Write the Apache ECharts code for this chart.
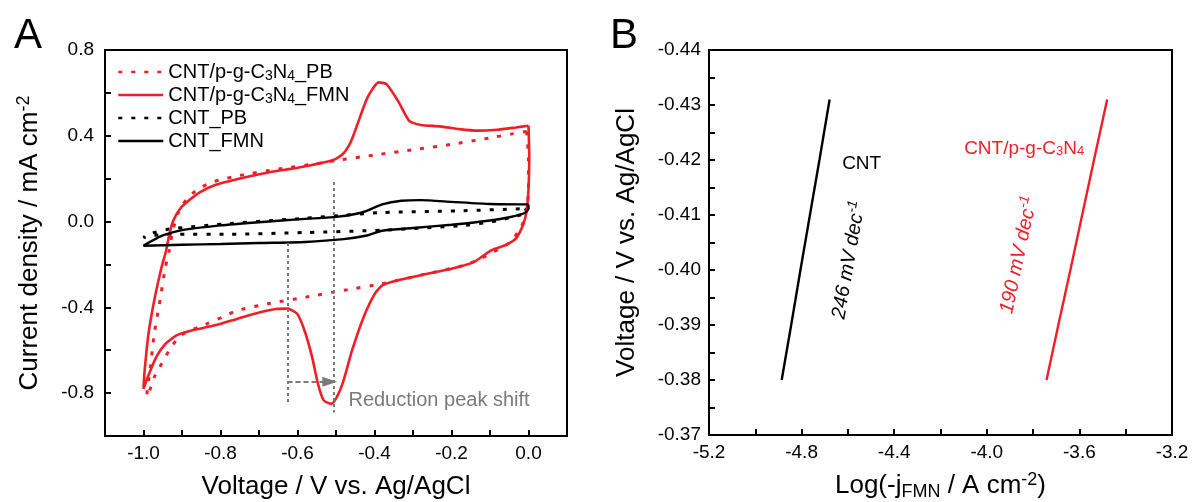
<!DOCTYPE html>
<html><head><meta charset="utf-8">
<script src="https://cdn.jsdelivr.net/npm/echarts@6/dist/echarts.min.js"></script>
<style>html,body{margin:0;padding:0;background:#fff}#c{width:1195px;height:502px}</style>
</head><body><div id="c"></div>
<script>
const FONT = "'Liberation Sans', Arial, sans-serif";
const RED = '#f01e28';
const GRAY = '#7a7a7a';

// ---------- Panel A: cyclic voltammograms ----------
const seriesNames = ['CNT/p-g-C3N4_PB', 'CNT/p-g-C3N4_FMN', 'CNT_PB', 'CNT_FMN'];
const legendRich = {
  'CNT/p-g-C3N4_PB': 'CNT/p-g-C{sub|3}N{sub|4}_PB',
  'CNT/p-g-C3N4_FMN': 'CNT/p-g-C{sub|3}N{sub|4}_FMN',
  'CNT_PB': 'CNT_PB',
  'CNT_FMN': 'CNT_FMN'
};

const cvHybridPB = [
  [-0.005,0.42],[0.0,0.30],[0.0,0.15],[-0.005,0.05],[-0.02,-0.03],[-0.05,-0.10],[-0.09,-0.14],
  [-0.132,-0.18],[-0.18,-0.21],[-0.28,-0.25],[-0.34,-0.274],[-0.38,-0.29],[-0.478,-0.32],
  [-0.577,-0.352],[-0.676,-0.383],[-0.755,-0.414],[-0.794,-0.445],[-0.834,-0.476],[-0.903,-0.53],
  [-0.933,-0.60],[-0.953,-0.663],[-0.972,-0.725],[-0.987,-0.803],[-0.992,-0.815],
  [-0.982,-0.678],[-0.972,-0.523],[-0.957,-0.367],[-0.943,-0.212],[-0.933,-0.134],[-0.925,-0.05],
  [-0.91,0.04],[-0.89,0.10],[-0.86,0.15],[-0.82,0.185],[-0.75,0.215],[-0.65,0.245],[-0.55,0.27],
  [-0.5,0.285],[-0.4,0.31],[-0.3,0.335],[-0.2,0.36],[-0.1,0.39],[-0.04,0.41],[-0.005,0.42]
];
const cvHybridFMN = [
  [0.0,0.447],[0.002,0.30],[0.0,0.15],[-0.005,0.05],[-0.013,-0.01],[-0.033,-0.08],[-0.06,-0.11],
  [-0.097,-0.134],[-0.141,-0.188],[-0.2,-0.22],[-0.28,-0.25],[-0.339,-0.274],[-0.379,-0.297],
  [-0.399,-0.336],[-0.428,-0.445],[-0.458,-0.60],[-0.483,-0.756],[-0.498,-0.819],[-0.512,-0.85],
  [-0.532,-0.834],[-0.547,-0.756],[-0.562,-0.632],[-0.582,-0.507],[-0.601,-0.43],[-0.626,-0.406],
  [-0.656,-0.408],[-0.695,-0.422],[-0.755,-0.453],[-0.814,-0.484],[-0.873,-0.507],[-0.913,-0.53],
  [-0.943,-0.57],[-0.967,-0.632],[-0.987,-0.717],[-1.0,-0.78],
  [-0.997,-0.694],[-0.987,-0.523],[-0.972,-0.367],[-0.953,-0.212],[-0.941,-0.134],[-0.933,-0.06],
  [-0.923,0.003],[-0.905,0.06],[-0.883,0.097],[-0.854,0.136],[-0.814,0.17],[-0.755,0.198],
  [-0.676,0.229],[-0.596,0.252],[-0.507,0.287],[-0.482,0.315],[-0.462,0.37],[-0.445,0.45],
  [-0.418,0.579],[-0.389,0.649],[-0.369,0.641],[-0.339,0.563],[-0.31,0.47],[-0.28,0.45],[-0.23,0.444],
  [-0.18,0.431],[-0.132,0.424],[-0.082,0.428],[-0.033,0.439],[0.0,0.447]
];
const cvCntPB = [
  [-0.01,0.06],[0.0,0.045],[-0.013,0.035],[-0.082,0.003],[-0.18,-0.02],[-0.379,-0.04],
  [-0.577,-0.051],[-0.774,-0.059],[-0.923,-0.059],[-0.987,-0.067],[-1.0,-0.075],
  [-0.99,-0.06],[-0.933,-0.035],[-0.774,-0.009],[-0.577,0.016],[-0.379,0.042],[-0.18,0.05],[-0.01,0.06]
];
const cvCntFMN = [
  [0.0,0.08],[0.0,0.06],[-0.01,0.04],[-0.05,0.02],[-0.1,0.005],[-0.2,-0.015],[-0.3,-0.03],
  [-0.38,-0.043],[-0.42,-0.065],[-0.48,-0.082],[-0.58,-0.095],[-0.7,-0.10],[-0.8,-0.105],
  [-0.9,-0.108],[-1.0,-0.113],
  [-0.98,-0.092],[-0.95,-0.065],[-0.9,-0.04],[-0.8,-0.018],[-0.7,-0.003],[-0.6,0.01],[-0.5,0.022],
  [-0.45,0.035],[-0.42,0.05],[-0.38,0.08],[-0.33,0.097],[-0.28,0.10],[-0.2,0.092],[-0.1,0.082],[0.0,0.08]
];

// annotation geometry (data units)
const peakLineLeft = [[-0.626,-0.10],[-0.626,-0.855]];
const peakLineRight = [[-0.506,0.185],[-0.506,-0.89]];
const shiftArrow = [[-0.626,-0.747],[-0.516,-0.747]];
const shiftText = {coord: [-0.469,-0.836], text: 'Reduction peak shift'};

const aXTickLabels = ['-1.0','-0.8','-0.6','-0.4','-0.2','0.0'];
const aYTickLabels = ['-0.8','-0.4','0.0','0.4','0.8'];

// ---------- Panel B: Tafel plots ----------
const tafelY = [-0.38,-0.39,-0.40,-0.41,-0.42,-0.431];
const tafelCntX = [-4.886,-4.845,-4.805,-4.764,-4.723,-4.679];
const tafelHybridX = [-3.742,-3.691,-3.639,-3.588,-3.537,-3.48];
const bXTickLabels = ['-5.2','-4.8','-4.4','-4.0','-3.6','-3.2'];
const bYTickLabels = ['-0.44','-0.43','-0.42','-0.41','-0.40','-0.39','-0.38','-0.37'];
const bLabels = [
  {coord: [-4.627,-0.4194], text: 'CNT', color: '#000', rotate: 0, pos: 'right'},
  {coord: [-4.10,-0.4221], text: 'CNT/p-g-C{sub|3}N{sub|4}', color: RED, rotate: 0, pos: 'right'},
  {coord: [-4.595,-0.4018], text: '{it|246 mV dec}{sup|-1}', color: '#000', rotate: 80, pos: 'inside'},
  {coord: [-3.861,-0.4027], text: '{it|190 mV dec}{sup|-1}', color: RED, rotate: 78, pos: 'inside'}
];

function pairs(xs, ys) { return xs.map((x, i) => [x, ys[i]]); }
function fmt(labels, digits) {
  return v => { if (Math.abs(v) < 1e-9) v = 0; const s = v.toFixed(digits); return labels.includes(s) ? s : ''; };
}
const richSmall = (size, color, italicSup) => ({
  sub: {fontSize: Math.round(size*0.68), lineHeight: Math.round(size*0.72), verticalAlign: 'bottom', fontFamily: FONT, color},
  sup: {fontSize: Math.round(size*0.68), lineHeight: Math.round(size*0.6), verticalAlign: 'top', fontFamily: FONT, color,
        fontStyle: italicSup ? 'italic' : 'normal'},
  it: {fontSize: size, fontStyle: 'italic', fontFamily: FONT, color, lineHeight: size + 6, verticalAlign: 'middle'}
});

function axis(extra) {
  return Object.assign({
    type: 'value',
    axisLine: {show: true, onZero: false, lineStyle: {color: '#000', width: 2}},
    axisTick: {show: true, inside: true, length: 6, lineStyle: {color: '#000', width: 2}},
    splitLine: {show: false},
    nameLocation: 'middle',
    nameTextStyle: {color: '#000', fontSize: 26, fontFamily: FONT, lineHeight: 30, rich: richSmall(26, '#000')}
  }, extra);
}

const lbl = (margin) => ({color: '#000', fontSize: 19, fontFamily: FONT, margin});

const chart = echarts.init(document.getElementById('c'), null, {renderer: 'canvas'});
const option = {
  animation: false,
  backgroundColor: '#fff',
  title: [
    {text: 'A', left: 9, top: 10, textStyle: {fontSize: 42, fontWeight: 'normal', fontFamily: FONT, color: '#000'}},
    {text: 'B', left: 605, top: 10, textStyle: {fontSize: 42, fontWeight: 'normal', fontFamily: FONT, color: '#000'}}
  ],
  grid: [
    {left: 105, top: 50, width: 462, height: 386, show: true, borderColor: '#000', borderWidth: 2,
      containLabel: false, outerBoundsMode: 'none'},
    {left: 709, top: 50, width: 463, height: 385, show: true, borderColor: '#000', borderWidth: 2,
      containLabel: false, outerBoundsMode: 'none'}
  ],
  legend: {
    data: seriesNames,
    orient: 'vertical',
    left: 112, top: 56,
    itemWidth: 45, itemHeight: 14, itemGap: 1,
    formatter: n => legendRich[n],
    textStyle: {fontSize: 20, fontFamily: FONT, color: '#000', lineHeight: 22, rich: richSmall(20, '#000')},
    itemStyle: {opacity: 0, borderWidth: 0},
    lineStyle: {width: 2.6},
    selectedMode: false
  },
  xAxis: [
    axis({gridIndex: 0, min: -1.1, max: 0.1, interval: 0.1, name: 'Voltage / V vs. Ag/AgCl', nameGap: 36,
      axisLabel: Object.assign(lbl(8), {formatter: fmt(aXTickLabels, 1), interval: 0})}),
    axis({gridIndex: 1, min: -5.2, max: -3.2, interval: 0.2, name: 'Log(-j{sub|FMN} / A cm{sup|-2})', nameGap: 36,
      axisLabel: Object.assign(lbl(8), {formatter: fmt(bXTickLabels, 1), interval: 0})})
  ],
  yAxis: [
    axis({gridIndex: 0, min: -1.0, max: 0.8, interval: 0.2, name: 'Current density / mA cm{sup|-2}', nameGap: 60,
      axisLabel: Object.assign(lbl(11), {formatter: fmt(aYTickLabels, 1), interval: 0})}),
    axis({gridIndex: 1, min: -0.44, max: -0.37, interval: 0.01, inverse: true, name: 'Voltage / V vs. Ag/AgCl', nameGap: 67,
      minorTick: {show: true, splitNumber: 2, length: 6, lineStyle: {color: '#000', width: 2}},
      axisLabel: Object.assign(lbl(8), {formatter: fmt(bYTickLabels, 2), interval: 0})})
  ],
  series: [
    {name: seriesNames[0], type: 'line', xAxisIndex: 0, yAxisIndex: 0, data: cvHybridPB, symbol: 'none', smooth: 0.2,
      lineStyle: {color: RED, width: 3, type: [4, 9]}, itemStyle: {color: RED}, z: 2},
    {name: seriesNames[1], type: 'line', xAxisIndex: 0, yAxisIndex: 0, data: cvHybridFMN, symbol: 'none', smooth: 0.2,
      lineStyle: {color: RED, width: 2.6}, itemStyle: {color: RED}, z: 3},
    {name: seriesNames[2], type: 'line', xAxisIndex: 0, yAxisIndex: 0, data: cvCntPB, symbol: 'none', smooth: 0.2,
      lineStyle: {color: '#000', width: 3, type: [4, 9]}, itemStyle: {color: '#000'}, z: 2},
    {name: seriesNames[3], type: 'line', xAxisIndex: 0, yAxisIndex: 0, data: cvCntFMN, symbol: 'none', smooth: 0.2,
      lineStyle: {color: '#000', width: 2.4}, itemStyle: {color: '#000'}, z: 3},
    {name: 'annotA', type: 'line', xAxisIndex: 0, yAxisIndex: 0, data: [], symbol: 'none', z: 4,
      markLine: {
        silent: true, symbol: ['none', 'none'], animation: false,
        label: {show: false},
        data: [
          [{coord: peakLineLeft[0]}, {coord: peakLineLeft[1]}],
          [{coord: peakLineRight[0]}, {coord: peakLineRight[1]}],
          [{coord: shiftArrow[0], symbol: 'none'}, {coord: shiftArrow[1], symbol: 'triangle', symbolSize: [10, 15]}]
        ].map((d, i) => { d[0].lineStyle = {color: GRAY, width: 2, type: i < 2 ? [3, 3] : [5, 3]}; return d; }),
        lineStyle: {color: GRAY, width: 2, type: [3, 3]},
        itemStyle: {color: GRAY}
      },
      markPoint: {
        silent: true, symbol: 'circle', symbolSize: 1, itemStyle: {color: 'rgba(0,0,0,0)'},
        data: [{coord: shiftText.coord, value: 0}],
        label: {show: true, position: 'right', distance: 0, formatter: shiftText.text, color: GRAY, fontSize: 20, fontFamily: FONT}
      }
    },
    {name: 'CNT', type: 'line', xAxisIndex: 1, yAxisIndex: 1, data: pairs(tafelCntX, tafelY), symbol: 'none',
      lineStyle: {color: '#000', width: 2.4}},
    {name: 'CNT/p-g-C3N4', type: 'line', xAxisIndex: 1, yAxisIndex: 1, data: pairs(tafelHybridX, tafelY), symbol: 'none',
      lineStyle: {color: RED, width: 2.4},
      markPoint: {
        silent: true, symbol: 'circle', symbolSize: 1, itemStyle: {color: 'rgba(0,0,0,0)'},
        data: bLabels.map(b => ({
          coord: b.coord, value: 0,
          label: {show: true, position: b.pos, distance: 0, rotate: b.rotate, formatter: b.text, color: b.color,
            fontSize: 19, fontFamily: FONT, rich: richSmall(b.pos === 'inside' ? 20 : 19, b.color, b.pos === 'inside')}
        }))
      }
    }
  ]
};
chart.setOption(option);
</script>
</body></html>
